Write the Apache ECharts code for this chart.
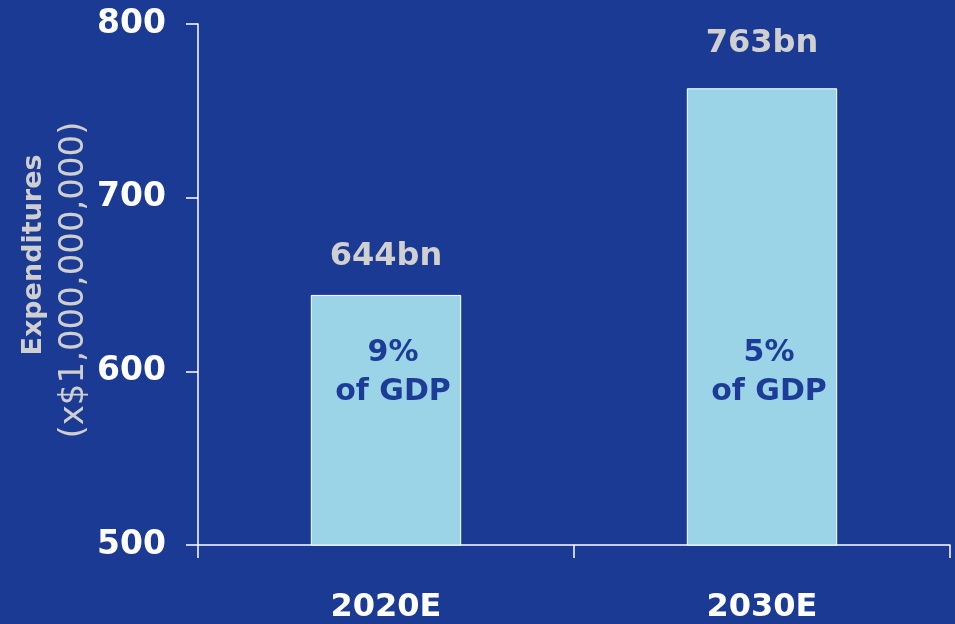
<!DOCTYPE html>
<html>
<head>
<meta charset="utf-8">
<style>
  html, body { margin: 0; padding: 0; background: #1b3a94; }
  #chart { width: 955px; height: 624px; }
</style>
<script src="https://cdn.jsdelivr.net/npm/echarts@6/dist/echarts.min.js"></script>
</head>
<body>
<div id="chart"></div>
<script>
// Health-care expenditures, billions of dollars
const categories = ['2020E', '2030E'];
const expenditures = [644, 763];
const gdpShare = [9, 5];
const yTicks = [500, 600, 700, 800];
// value at which the "% of GDP" notes sit inside the bars
const noteLevel = [600, 600];

const FONT = '"DejaVu Sans", sans-serif';

const chart = echarts.init(document.getElementById('chart'));
chart.setOption({
  backgroundColor: '#1b3a94',
  animation: false,
  grid: { left: 198, right: 5, top: 24, bottom: 78 },
  xAxis: {
    type: 'category',
    data: categories,
    boundaryGap: true,
    axisLine: { lineStyle: { color: '#ffffff', width: 1.5 } },
    axisTick: { show: true, length: 13, lineStyle: { color: '#ffffff', width: 1.5 } },
    axisLabel: {
      color: '#ffffff', fontFamily: FONT, fontWeight: 'bold', fontSize: 32, margin: 47
    }
  },
  yAxis: {
    type: 'value',
    min: yTicks[0],
    max: yTicks[yTicks.length - 1],
    interval: 100,
    splitLine: { show: false },
    axisLine: { show: true, lineStyle: { color: '#ffffff', width: 1.5 } },
    axisTick: { show: true, length: 12, lineStyle: { color: '#ffffff', width: 1.5 } },
    axisLabel: {
      color: '#ffffff', fontFamily: FONT, fontWeight: 'bold', fontSize: 33, margin: 32,
      padding: [4, 0, 0, 0]
    }
  },
  graphic: [
    {
      type: 'text', x: 34, y: 255, rotation: Math.PI / 2,
      style: {
        text: 'Expenditures', fill: '#cfcfcf', font: 'bold 27px ' + FONT,
        align: 'center', verticalAlign: 'middle'
      }
    },
    {
      type: 'text', x: 74, y: 280, rotation: Math.PI / 2,
      style: {
        text: '(x$1,000,000,000)', fill: '#cfcfcf', font: '34px ' + FONT,
        align: 'center', verticalAlign: 'middle'
      }
    }
  ],
  series: [
    {
      type: 'bar',
      data: expenditures.map((v, i) => ({
        value: v,
        label: { distance: i === 0 ? 22 : 29 }
      })),
      barWidth: '40%',
      itemStyle: { color: '#9ad4e6', borderColor: '#ffffff', borderWidth: 1 },
      label: {
        show: true,
        position: 'top',
        formatter: p => p.value + 'bn',
        color: '#d0d0d0', fontFamily: FONT, fontWeight: 'bold', fontSize: 32
      }
    },
    {
      type: 'scatter',
      data: noteLevel,
      symbolSize: 0,
      silent: true,
      itemStyle: { opacity: 1 },
      label: {
        show: true,
        position: 'inside',
        offset: [7, 1],
        formatter: p => gdpShare[p.dataIndex] + '%\nof GDP',
        color: '#1c3c98', fontFamily: FONT, fontWeight: 'bold', fontSize: 30,
        lineHeight: 39, align: 'center', verticalAlign: 'middle', opacity: 1
      }
    }
  ]
});
</script>
</body>
</html>
